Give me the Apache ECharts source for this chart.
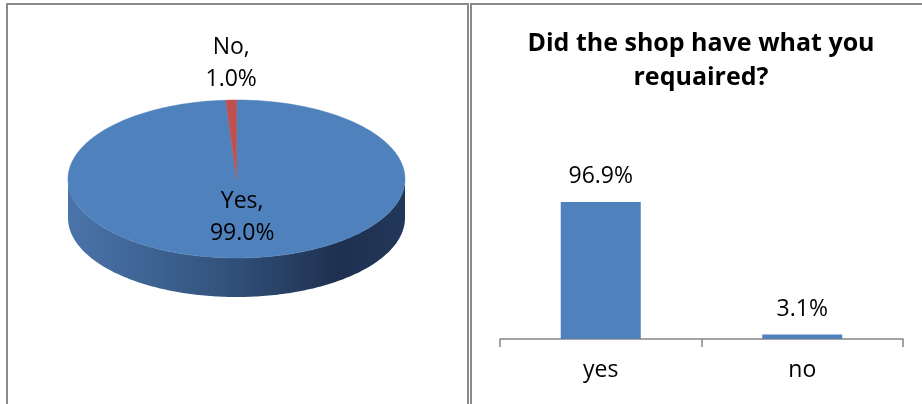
<!DOCTYPE html>
<html>
<head>
<meta charset="utf-8">
<script src="https://cdn.jsdelivr.net/npm/echarts@6/dist/echarts.min.js"></script>
<style>
  html, body { margin: 0; padding: 0; background: #ffffff; }
  #chart { width: 922px; height: 404px; }
</style>
</head>
<body>
<div id="chart"></div>
<script>
// ---- Data ----
const pieNames = ['Yes', 'No'];
const pieValues = [99.0, 1.0];
const barCategories = ['yes', 'no'];
const barValues = [96.9, 3.1];
const barTitle = 'Did the shop have what you\nrequaired?';

// ---- Styles / layout ----
const FONT = '"Open Sans", "Noto Sans", sans-serif';
const LABEL_SIZE = 23;
const pieColors = ['#4f81bd', '#c0504d'];
const PIE = { cx: 236.5, cy: 179, rx: 168.5, ry: 79, depth: 39 };

const total = pieValues.reduce((a, b) => a + b, 0);
const sliceAngles = [];
(function () {
  let acc = 90;
  pieValues.forEach(v => {
    const sweep = v / total * 360;
    sliceAngles.push([acc, acc - sweep]);
    acc -= sweep;
  });
})();

function pt(th, dy, scale) {
  const r = th * Math.PI / 180;
  const s = scale == null ? 1 : scale;
  return [PIE.cx + PIE.rx * s * Math.cos(r), PIE.cy - PIE.ry * s * Math.sin(r) + (dy || 0)];
}
function arcPts(a0, a1, dy) {
  const pts = [];
  const n = Math.max(2, Math.ceil(Math.abs(a0 - a1) / 1));
  for (let k = 0; k <= n; k++) pts.push(pt(a0 + (a1 - a0) * k / n, dy));
  return pts;
}
// front-facing parts (screen lower half) of slice [lo, hi]
function frontParts(hi, lo) {
  const parts = [];
  for (let k = -2; k <= 1; k++) {
    const fLo = -180 + 360 * k, fHi = 360 * k;
    const a = Math.max(lo, fLo), b = Math.min(hi, fHi);
    if (b > a) parts.push([b, a]);
  }
  return parts;
}
const sideGradient = {
  type: 'linear', global: true,
  x: PIE.cx - PIE.rx, y: 0, x2: PIE.cx + PIE.rx, y2: 0,
  colorStops: [
    { offset: 0, color: '#4a74aa' },
    { offset: 0.45, color: '#33547e' },
    { offset: 0.8, color: '#1f3050' },
    { offset: 1, color: '#22375a' }
  ]
};
const sideGradientRed = {
  type: 'linear', global: true,
  x: PIE.cx - PIE.rx, y: 0, x2: PIE.cx + PIE.rx, y2: 0,
  colorStops: [
    { offset: 0, color: '#a8403d' },
    { offset: 1, color: '#5e2322' }
  ]
};

function renderPie(params, api) {
  const i = params.dataIndex;
  const [a0, a1] = sliceAngles[i];
  const children = [];
  frontParts(a0, a1).forEach(([hi, lo]) => {
    const pts = arcPts(hi, lo, 0).concat(arcPts(lo, hi, PIE.depth));
    children.push({
      type: 'polygon', z2: 1,
      shape: { points: pts },
      style: { fill: i === 0 ? sideGradient : sideGradientRed }
    });
  });
  const top = [[PIE.cx, PIE.cy]].concat(arcPts(a0, a1, 0));
  children.push({
    type: 'polygon', z2: 10,
    shape: { points: top },
    style: { fill: pieColors[i], stroke: pieColors[i], lineWidth: 0.5 }
  });
  const mid = (a0 + a1) / 2;
  const sweep = a0 - a1;
  const r = mid * Math.PI / 180;
  let lx, ly;
  if (sweep > 30) {
    const p = pt(mid, 0, 0.5);
    lx = p[0] + 3; ly = p[1] - 1;
  } else {
    lx = PIE.cx + PIE.rx * Math.cos(r);
    ly = PIE.cy - (PIE.ry + 37) * Math.sin(r);
  }
  children.push({
    type: 'text', z2: 20,
    x: lx, y: ly,
    style: {
      text: pieNames[i] + ',\n' + pieValues[i].toFixed(1) + '%',
      fill: '#000', font: LABEL_SIZE + 'px ' + FONT, lineHeight: 32,
      align: 'center', verticalAlign: 'middle'
    }
  });
  return { type: 'group', children };
}

const chart = echarts.init(document.getElementById('chart'), null, { renderer: 'canvas' });
chart.setOption({
  animation: false,
  backgroundColor: '#ffffff',
  title: {
    text: barTitle,
    left: 701, top: 27, padding: 0,
    textAlign: 'center',
    textStyle: { fontFamily: FONT, fontSize: 25, fontWeight: 'bold', color: '#000', lineHeight: 34 }
  },
  graphic: [
    { type: 'rect', z: 100, shape: { x: 7, y: 4, width: 461, height: 440 }, style: { fill: 'none', stroke: '#8a8a8a', lineWidth: 2 } },
    { type: 'rect', z: 100, shape: { x: 471, y: 4, width: 480, height: 440 }, style: { fill: 'none', stroke: '#8a8a8a', lineWidth: 2 } }
  ],
  grid: { left: 500, right: 19, top: 197.6, bottom: 65 },
  xAxis: {
    type: 'category', data: barCategories,
    axisLine: { lineStyle: { color: '#868686', width: 1.5 } },
    axisTick: { show: true, length: 8, alignWithLabel: false, lineStyle: { color: '#868686', width: 1.5 } },
    axisLabel: { fontSize: LABEL_SIZE, color: '#000', fontFamily: FONT, margin: 20 }
  },
  yAxis: { type: 'value', min: 0, max: 100, show: false, splitLine: { show: false } },
  series: [
    {
      type: 'custom', coordinateSystem: 'none',
      data: pieValues.map((v, i) => ({ name: pieNames[i], value: v })),
      renderItem: renderPie
    },
    {
      type: 'bar', data: barValues, barWidth: 80,
      itemStyle: { color: '#4f81bd' },
      label: {
        show: true, position: 'top', distance: 14, color: '#000',
        fontSize: LABEL_SIZE, fontFamily: FONT,
        formatter: p => p.value.toFixed(1) + '%'
      }
    }
  ]
});
</script>
</body>
</html>
